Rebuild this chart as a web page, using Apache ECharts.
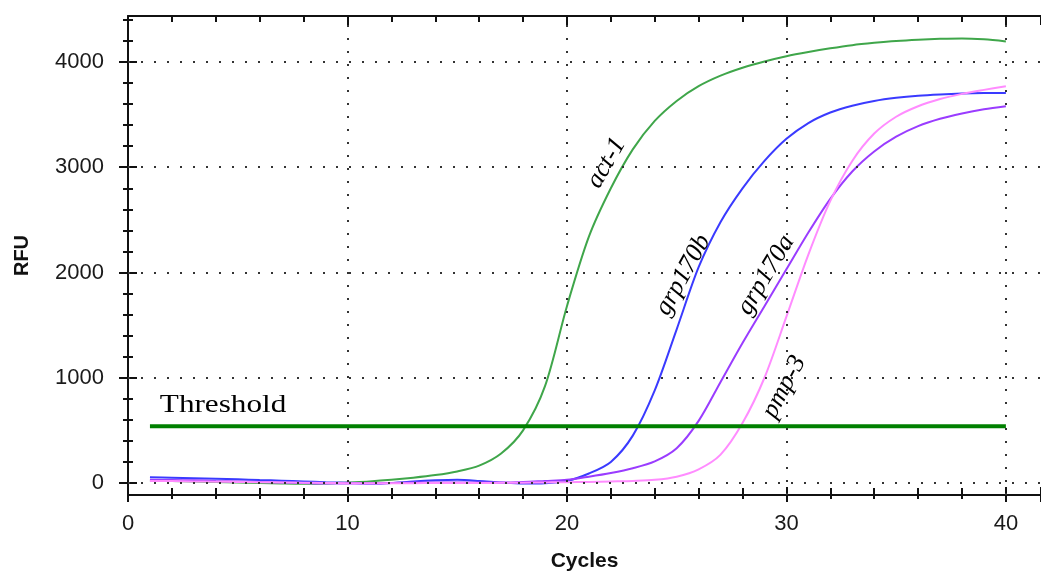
<!DOCTYPE html>
<html>
<head>
<meta charset="utf-8">
<script src="https://cdn.jsdelivr.net/npm/echarts@6.0.0/dist/echarts.min.js"></script>
<style>
html,body{margin:0;padding:0;background:#fff;}
#chart{width:1041px;height:571px;}
</style>
</head>
<body>
<div id="chart"></div>
<script>
// ---- data ----
var cycles = [1,2,3,4,5,6,7,8,9,10,11,12,13,14,15,16,17,18,19,20,21,22,23,24,25,26,27,28,29,30,31,32,33,34,35,36,37,38,39,40];
var act1 = [20,18,15,10,5,0,-5,-8,-5,5,15,30,50,75,110,165,280,500,920,1680,2340,2800,3170,3440,3630,3770,3870,3945,4005,4055,4095,4130,4160,4182,4200,4212,4220,4224,4215,4195];
var grp170b = [55,50,45,40,35,28,22,15,8,2,-5,0,15,25,30,20,5,-5,-2,20,90,200,450,880,1460,2050,2480,2800,3060,3270,3420,3520,3585,3630,3660,3680,3692,3700,3705,3706];
var grp170a = [30,28,25,20,15,10,5,0,-5,-5,-5,0,5,5,5,5,5,10,20,30,60,95,140,205,330,590,960,1330,1680,2030,2380,2700,2960,3150,3290,3390,3460,3510,3550,3580];
var pmp3 = [20,18,15,12,10,8,5,3,0,-2,-3,-3,-2,0,0,0,2,3,5,8,10,15,20,30,60,130,270,570,1000,1580,2170,2680,3060,3320,3480,3580,3648,3697,3735,3770];
var thresholdValue = 540;
var thresholdRange = [1, 40];

var xMajorTicks = [0,10,20,30,40];
var yMajorTicks = [0,1000,2000,3000,4000];
var yMinorTicks = [200,400,600,800,1200,1400,1600,1800,2200,2400,2600,2800,3200,3400,3600,3800,4200,4400];

var curveNames = ['act-1','grp170b','grp170a','pmp-3'];
var curveColors = ['#3fa64a','#3a3aff','#9a3cff','#ff8cff'];
var curveLabels = [
  {text:'act-1',   x:21.8, y:3040, rot:60},
  {text:'grp170b', x:25.3, y:1976, rot:61},
  {text:'grp170a', x:29.07,y:1976, rot:59},
  {text:'pmp-3',   x:29.9, y:912,  rot:62}
];
var thresholdLabel = {text:'Threshold', x:1.45, y:740};

function pairs(ys){ return cycles.map(function(c,i){ return [c, ys[i]]; }); }

var X_MIN = 0, X_MAX = 41.6, Y_MIN = -114, Y_MAX = 4437;
var axisColor = '#111';
var labelFont = {fontFamily:'Liberation Sans', fontSize:22, color:'#1a1a1a'};

var chart = echarts.init(document.getElementById('chart'), null, {renderer:'canvas'});

var gridLineStyle = {type:[2,11], width:2, color:'#333', opacity:1};
var gridMarks = yMajorTicks.map(function(v){return {yAxis:v};})
  .concat(xMajorTicks.slice(1).map(function(v){return {xAxis:v};}));

var series = [
  {
    type:'line', data:[], silent:true, z:1,
    markLine:{silent:true, symbol:['none','none'], label:{show:false},
      lineStyle:gridLineStyle, emphasis:{disabled:true}, data:gridMarks, animation:false}
  }
];
[act1, grp170b, grp170a, pmp3].forEach(function(d,i){
  series.push({
    name:curveNames[i], type:'line', data:pairs(d), smooth:0.3, showSymbol:false,
    lineStyle:{color:curveColors[i], width:2}, itemStyle:{color:curveColors[i]}, z:3,
    emphasis:{disabled:true}
  });
});
series.push({
  name:'Threshold', type:'line',
  data:[[thresholdRange[0], thresholdValue],[thresholdRange[1], thresholdValue]],
  showSymbol:false, lineStyle:{color:'#008000', width:4}, z:4, emphasis:{disabled:true}
});

function xAxisBase(){
  return {type:'value', min:X_MIN, max:X_MAX, interval:10, splitLine:{show:false}};
}
function yAxisBase(){
  return {type:'value', min:Y_MIN, max:Y_MAX, position:'left', splitLine:{show:false}};
}

var option = {
  animation:false,
  backgroundColor:'#fff',
  grid:{left:128, right:0, top:16, bottom:76, containLabel:false, outerBoundsMode:'none'},
  xAxis:[
    Object.assign(xAxisBase(), {
      position:'bottom',
      name:'Cycles', nameLocation:'middle', nameGap:56,
      nameTextStyle:{fontFamily:'Liberation Sans', fontSize:21, fontWeight:'bold', color:'#111'},
      axisLine:{show:true, onZero:false, lineStyle:{color:axisColor, width:2}},
      axisTick:{show:true, inside:false, length:7, lineStyle:{color:axisColor, width:2}},
      minorTick:{show:true, splitNumber:5, length:4, lineStyle:{color:axisColor, width:2}},
      axisLabel:Object.assign({margin:18, showMaxLabel:false}, labelFont)
    }),
    Object.assign(xAxisBase(), {
      position:'bottom',
      axisLine:{show:false, onZero:false},
      axisTick:{show:true, inside:true, length:8, lineStyle:{color:axisColor, width:2}},
      minorTick:{show:true, splitNumber:5, length:7, lineStyle:{color:axisColor, width:2}},
      axisLabel:{show:false}
    }),
    Object.assign(xAxisBase(), {
      position:'top',
      axisLine:{show:true, onZero:false, lineStyle:{color:axisColor, width:2}},
      axisTick:{show:true, inside:true, length:9, lineStyle:{color:axisColor, width:2}},
      minorTick:{show:true, splitNumber:5, length:6, lineStyle:{color:axisColor, width:2}},
      axisLabel:{show:false}
    })
  ],
  yAxis:[
    Object.assign(yAxisBase(), {
      name:'RFU', nameLocation:'middle', nameGap:96, nameRotate:90,
      nameTextStyle:{fontFamily:'Liberation Sans', fontSize:20, fontWeight:'bold', color:'#111'},
      axisLine:{show:true, onZero:false, lineStyle:{color:axisColor, width:2}},
      axisTick:{show:true, inside:false, length:9, customValues:yMajorTicks, lineStyle:{color:axisColor, width:2}},
      axisLabel:Object.assign({margin:24, customValues:yMajorTicks, formatter:function(v){return String(v);}}, labelFont)
    }),
    Object.assign(yAxisBase(), {
      axisLine:{show:false, onZero:false},
      axisTick:{show:true, inside:true, length:9, customValues:yMajorTicks, lineStyle:{color:axisColor, width:2}},
      axisLabel:{show:false}
    }),
    Object.assign(yAxisBase(), {
      axisLine:{show:false, onZero:false},
      axisTick:{show:true, inside:false, length:5, customValues:yMinorTicks, lineStyle:{color:axisColor, width:2}},
      axisLabel:{show:false}
    }),
    Object.assign(yAxisBase(), {
      axisLine:{show:false, onZero:false},
      axisTick:{show:true, inside:true, length:5, customValues:yMinorTicks, lineStyle:{color:axisColor, width:2}},
      axisLabel:{show:false}
    })
  ],
  series:series
};
chart.setOption(option);

// annotations placed through the chart's own coordinate conversion
var graphics = curveLabels.map(function(l){
  var p = chart.convertToPixel({xAxisIndex:0, yAxisIndex:0}, [l.x, l.y]);
  return {
    type:'text', x:p[0], y:p[1], rotation:l.rot*Math.PI/180, z:10, silent:true,
    style:{text:l.text, font:'italic 26px "Liberation Serif"', fill:'#000', align:'center', verticalAlign:'middle'}
  };
});
var tp = chart.convertToPixel({xAxisIndex:0, yAxisIndex:0}, [thresholdLabel.x, thresholdLabel.y]);
graphics.push({
  type:'text', x:tp[0], y:tp[1], scaleX:1.2, z:10, silent:true,
  style:{text:thresholdLabel.text, font:'26px "Liberation Serif"', fill:'#000', align:'left', verticalAlign:'middle'}
});
chart.setOption({graphic:graphics});
</script>
</body>
</html>
